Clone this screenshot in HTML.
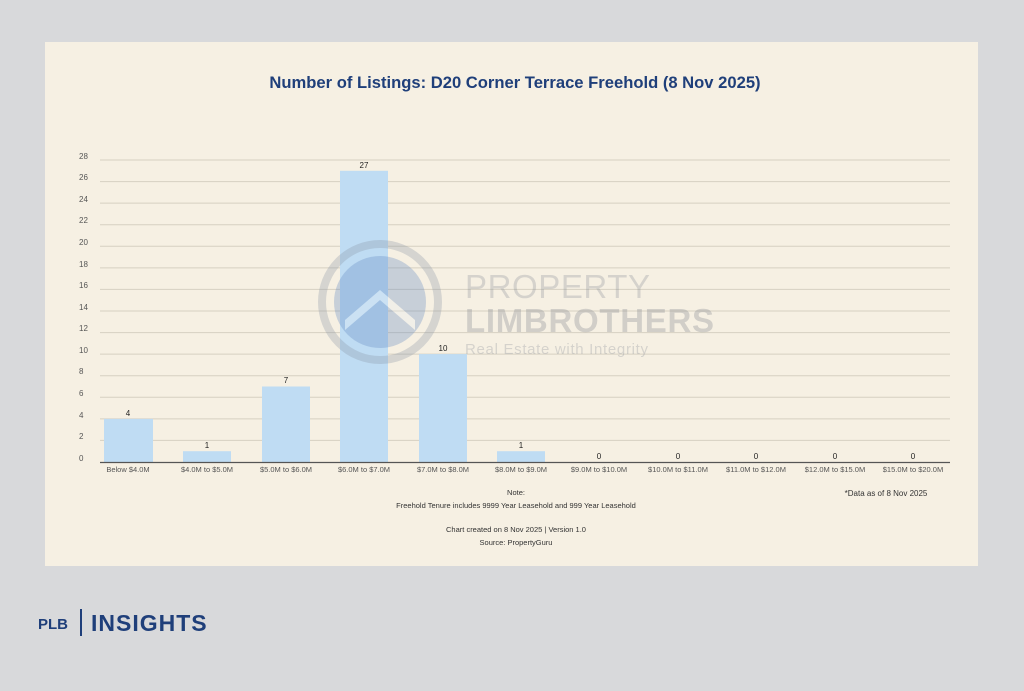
<!DOCTYPE html>
<html><head><meta charset="utf-8"><style>
body{margin:0;background:#d8d9db;width:1024px;height:686px;overflow:hidden;font-family:"Liberation Sans",sans-serif}
</style></head><body>
<svg width="1024" height="686" xmlns="http://www.w3.org/2000/svg" font-family="Liberation Sans, sans-serif">
<rect width="1024" height="686" fill="#d8d9db"/>
<rect x="45" y="42" width="933" height="524" fill="#f6f0e3"/>
<text x="515" y="88" text-anchor="middle" font-size="16.6" font-weight="bold" fill="#1f3f7a">Number of Listings: D20 Corner Terrace Freehold (8 Nov 2025)</text>
<g stroke="#d6d0c2" stroke-width="1">
<line x1="100" x2="950" y1="160" y2="160"/><line x1="100" x2="950" y1="181.6" y2="181.6"/><line x1="100" x2="950" y1="203.1" y2="203.1"/><line x1="100" x2="950" y1="224.7" y2="224.7"/><line x1="100" x2="950" y1="246.3" y2="246.3"/><line x1="100" x2="950" y1="267.9" y2="267.9"/><line x1="100" x2="950" y1="289.4" y2="289.4"/><line x1="100" x2="950" y1="311" y2="311"/><line x1="100" x2="950" y1="332.6" y2="332.6"/><line x1="100" x2="950" y1="354.1" y2="354.1"/><line x1="100" x2="950" y1="375.7" y2="375.7"/><line x1="100" x2="950" y1="397.3" y2="397.3"/><line x1="100" x2="950" y1="418.9" y2="418.9"/><line x1="100" x2="950" y1="440.4" y2="440.4"/>
</g>
<g font-size="8" fill="#555">
<text x="79" y="159">28</text><text x="79" y="180">26</text><text x="79" y="202">24</text><text x="79" y="223">22</text><text x="79" y="245">20</text><text x="79" y="267">18</text><text x="79" y="288">16</text><text x="79" y="310">14</text><text x="79" y="331">12</text><text x="79" y="353">10</text><text x="79" y="374">8</text><text x="79" y="396">6</text><text x="79" y="418">4</text><text x="79" y="439">2</text><text x="79" y="461">0</text>
</g>
<g fill="#bfdcf3">
<rect x="104" y="418.9" width="49" height="43.1"/>
<rect x="183" y="451.2" width="48" height="10.8"/>
<rect x="262" y="386.5" width="48" height="75.5"/>
<rect x="340" y="170.8" width="48" height="291.2"/>
<rect x="419" y="354.1" width="48" height="107.9"/>
<rect x="497" y="451.2" width="48" height="10.8"/>
</g>
<!-- watermark -->
<g opacity="0.3">
<circle cx="380" cy="302" r="58" fill="none" stroke="#8a96a6" stroke-width="8"/>
<circle cx="380" cy="302" r="46" fill="#5f86bf"/>
<path d="M345 320 L380 290 L415 320 L415 330 L380 300 L345 330Z" fill="#e8eef6"/>
<text x="465" y="298" font-size="33" fill="#8a9099" textLength="185">PROPERTY</text>
<text x="465" y="332" font-size="33" font-weight="bold" fill="#7d838c" textLength="249">LIMBROTHERS</text>
<text x="465" y="354" font-size="15" fill="#8a9099" textLength="183">Real Estate with Integrity</text>
</g>
<line x1="100" x2="950" y1="462.5" y2="462.5" stroke="#555" stroke-width="1.2"/>
<g font-size="8" fill="#222" text-anchor="middle">
<text x="128" y="416">4</text><text x="207" y="448">1</text><text x="286" y="383">7</text><text x="364" y="168">27</text><text x="443" y="351">10</text><text x="521" y="448">1</text><text x="599" y="459">0</text><text x="678" y="459">0</text><text x="756" y="459">0</text><text x="835" y="459">0</text><text x="913" y="459">0</text>
</g>
<g font-size="7.5" fill="#555" text-anchor="middle">
<text x="128" y="472">Below $4.0M</text><text x="207" y="472">$4.0M to $5.0M</text><text x="286" y="472">$5.0M to $6.0M</text><text x="364" y="472">$6.0M to $7.0M</text><text x="443" y="472">$7.0M to $8.0M</text><text x="521" y="472">$8.0M to $9.0M</text><text x="599" y="472">$9.0M to $10.0M</text><text x="678" y="472">$10.0M to $11.0M</text><text x="756" y="472">$11.0M to $12.0M</text><text x="835" y="472">$12.0M to $15.0M</text><text x="913" y="472">$15.0M to $20.0M</text>
</g>
<g font-size="7.5" fill="#333" text-anchor="middle">
<text x="516" y="495">Note:</text>
<text x="516" y="508">Freehold Tenure includes 9999 Year Leasehold and 999 Year Leasehold</text>
<text x="516" y="532">Chart created on 8 Nov 2025 | Version 1.0</text>
<text x="516" y="545">Source: PropertyGuru</text>
<text x="886" y="496" font-size="8">*Data as of 8 Nov 2025</text>
</g>
<text x="38" y="629" font-size="15" font-weight="bold" fill="#1f3f7a">PLB</text>
<rect x="80" y="609" width="2" height="27" fill="#1f3f7a"/>
<text x="91" y="631" font-size="23" font-weight="bold" fill="#1f3f7a" letter-spacing="1">INSIGHTS</text>
</svg>
</body></html>
